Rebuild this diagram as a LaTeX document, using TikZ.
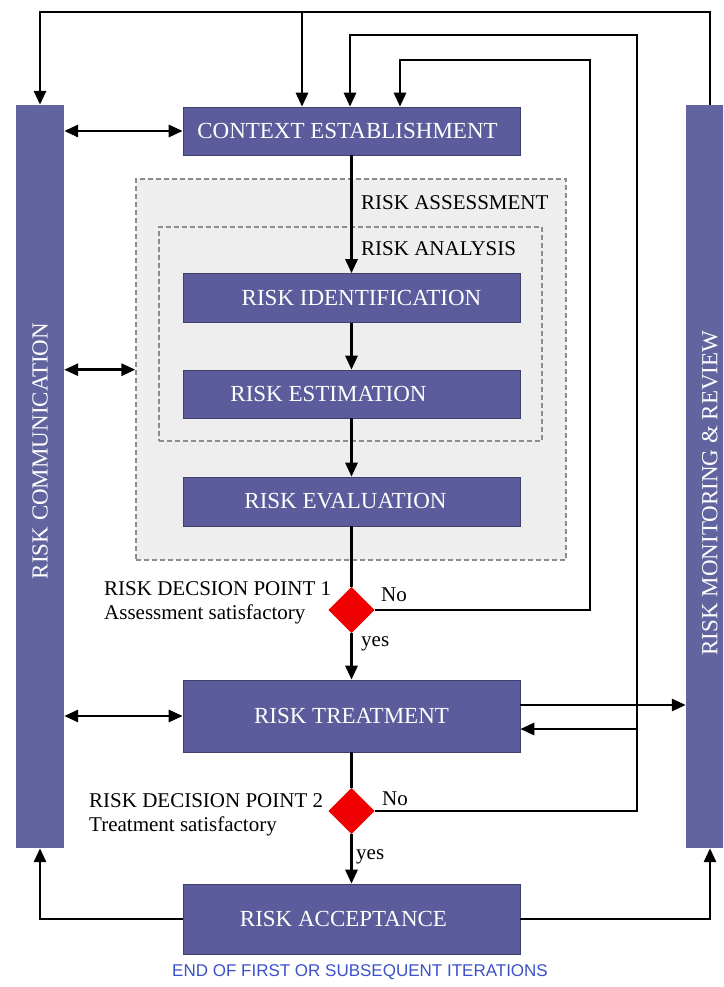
\documentclass[tikz,border=0pt]{standalone}
\usepackage{fontspec}
\setmainfont{Liberation Serif}
\newfontfamily\capsans{Liberation Sans}
\usetikzlibrary{shapes.geometric,arrows.meta}
\definecolor{boxblue}{RGB}{92,92,156}
\definecolor{bargrey}{RGB}{98,100,160}
\definecolor{panel}{RGB}{238,238,238}
\definecolor{dashgrey}{RGB}{140,140,140}
\definecolor{diamondred}{RGB}{240,0,0}
\definecolor{itertext}{RGB}{60,80,200}
\tikzset{
  stepbox/.style={draw=boxblue!70!black, line width=0.6pt, fill=boxblue, text=white,
    minimum width=337pt, inner sep=0pt, font=\fontsize{23}{23}\selectfont},
  sidebar/.style={fill=bargrey, minimum width=48pt, minimum height=743pt, inner sep=0pt},
  bartext/.style={text=white, rotate=90, inner sep=0pt, font=\fontsize{23}{23}\selectfont},
  groupbox/.style={draw=dashgrey, dashed, dash pattern=on 5pt off 3pt, line width=1.2pt, inner sep=0pt},
  decision/.style={diamond, aspect=1, fill=diamondred, minimum size=46pt, inner sep=0pt},
  lbl/.style={inner sep=0pt, font=\fontsize{21}{24}\selectfont},
  flow/.style={line width=2.9pt, draw=black},
  arr/.style={flow, -{Triangle[length=14pt,width=12pt]}},
  darr/.style={flow, {Triangle[length=14pt,width=12pt]}-{Triangle[length=14pt,width=12pt]}},
}
\begin{document}
\begin{tikzpicture}[x=1pt,y=-1pt]
\useasboundingbox (0,0) rectangle (723,987);
\clip (0,0) rectangle (723,987);

% assessment and analysis groupings
\node[groupbox, fill=panel, minimum width=430pt, minimum height=381pt] (assess) at (351,369.5) {};
\node[groupbox, fill=panel, minimum width=383pt, minimum height=214pt] (analysis) at (350.5,334) {};
\node[lbl, anchor=west] (assesslbl) at (361,203) {RISK ASSESSMENT};
\node[lbl, anchor=west] (analysislbl) at (361,249) {RISK ANALYSIS};

% side bars
\node[sidebar] (comm) at (40,476.5) {};
\node[sidebar] (mon) at (710,476.5) {};
\node[bartext] (commtxt) at (40,451) {RISK COMMUNICATION};
\node[bartext] (montxt) at (710,493) {RISK MONITORING \& REVIEW};

% process steps
\node[stepbox, minimum height=48pt] (ctx) at (351.5,131) {\hspace*{-8pt}CONTEXT ESTABLISHMENT};
\node[stepbox, minimum height=49pt] (ident) at (351.5,298) {\hspace*{20pt}RISK IDENTIFICATION};
\node[stepbox, minimum height=48pt] (estim) at (351.5,394) {\hspace*{-46pt}RISK ESTIMATION};
\node[stepbox, minimum height=49pt] (eval) at (351.5,501.5) {\hspace*{-12pt}RISK EVALUATION};
\node[stepbox, minimum height=72pt] (treat) at (351.5,716) {RISK TREATMENT};
\node[stepbox, minimum height=70pt] (accept) at (351.5,919) {\hspace*{-16pt}RISK ACCEPTANCE};

% decision points
\node[decision] (d1) at (351.5,610) {};
\node[decision] (d2) at (351.5,811) {};
\node[lbl, anchor=west, align=left] (d1lbl) at (104,603) {RISK DECSION POINT 1\\Assessment satisfactory};
\node[lbl, anchor=west, align=left] (d2lbl) at (89,815) {RISK DECISION POINT 2\\Treatment satisfactory};
\node[lbl, anchor=west] (d1no) at (381,595) {No};
\node[lbl, anchor=west] (d1yes) at (361,644) {yes};
\node[lbl, anchor=west] (d2no) at (382,799) {No};
\node[lbl, anchor=west] (d2yes) at (356,857) {yes};

\node[inner sep=0pt, text=itertext, font=\capsans\fontsize{17}{17}\selectfont] (iter) at (360,972) {END OF FIRST OR SUBSEQUENT ITERATIONS};

% feedback routing points
\coordinate (topR) at (710,12);
\coordinate (topL) at (40,12);
\coordinate (topJ) at (302,12);
\coordinate (loopA1) at (590,60);
\coordinate (loopA2) at (400,60);
\coordinate (loopB1) at (637,35);
\coordinate (loopB2) at (350,35);
\coordinate (loopBr) at (637,729);

% main flow
\draw[arr] (ctx.south) -- (ident.north);
\draw[arr] (ident.south) -- (estim.north);
\draw[arr] (estim.south) -- (eval.north);
\draw[flow] (eval.south) -- (d1.north);
\draw[arr] (d1.south) -- (treat.north);
\draw[flow] (treat.south) -- (d2.north);
\draw[arr] (d2.south) -- (accept.north);

% monitoring loop across the top
\draw[arr] (mon.north) -- (topR) -- (topL) -- (comm.north);
\draw[arr] (topJ) -- (topJ |- ctx.north);

% "No" returns
\draw[arr] (d1.east) -| (loopA1) -- (loopA2) -- (loopA2 |- ctx.north);
\draw[arr] (d2.east) -| (loopB1) -- (loopB2) -- (loopB2 |- ctx.north);
\draw[arr] (loopBr) -- (loopBr -| treat.east);
\draw[arr] ([yshift=11pt]treat.east) -- ([yshift=11pt]treat.east -| mon.west);

% communication links
\draw[darr] (comm.east |- ctx.west) -- (ctx.west);
\draw[darr] (comm.east |- estim.north) -- (assess.west |- estim.north);
\draw[darr] (comm.east |- treat.west) -- (treat.west);

% end of iteration
\draw[arr] (accept.west) -| (comm.south);
\draw[arr] (accept.east) -| (mon.south);

% diamonds drawn over the line ends
\node[decision] at (d1) {};
\node[decision] at (d2) {};
\end{tikzpicture}
\end{document}
